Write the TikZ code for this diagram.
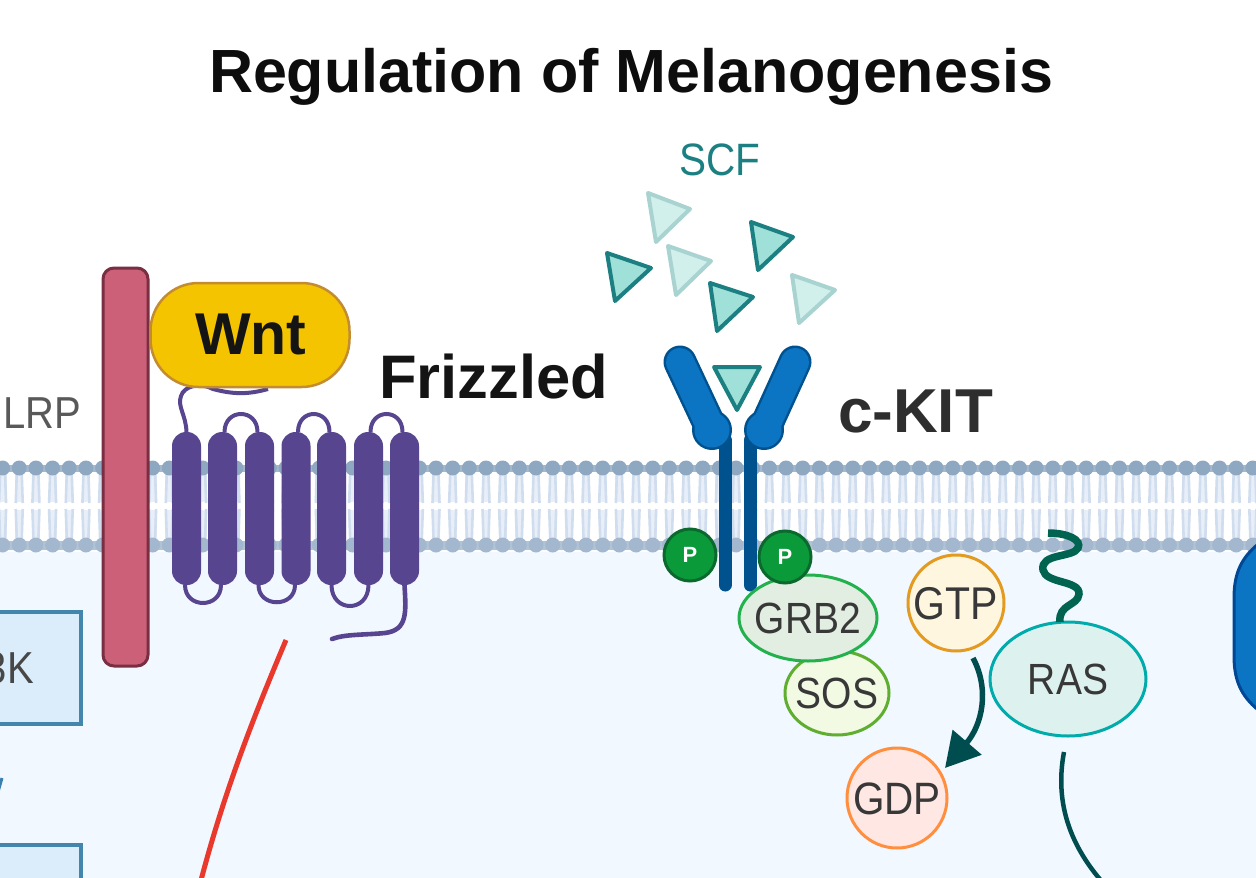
\documentclass[tikz,border=0pt]{standalone}
\usepackage{fontspec}
\usepackage{graphicx}
\setmainfont{Liberation Sans}
\usetikzlibrary{shapes.geometric,arrows.meta,calc}
\definecolor{cyto}{HTML}{F2F8FF}
\definecolor{head}{HTML}{8FA8C1}
\definecolor{headlow}{HTML}{A3B8CF}
\definecolor{tail}{HTML}{CFDDEE}
\definecolor{tailhalo}{HTML}{E8EFF8}
\definecolor{frz}{HTML}{58458F}
\definecolor{kitfill}{HTML}{0B75C4}
\definecolor{kitdark}{HTML}{00528F}
\definecolor{ligdark}{HTML}{1C8082}
\definecolor{ligfill}{HTML}{9FE1D9}
\definecolor{ligpaled}{HTML}{A9D3D1}
\definecolor{ligpalef}{HTML}{D1F0EC}
\definecolor{deepteal}{HTML}{004D50}
\definecolor{phosfill}{HTML}{0A9A3A}
\definecolor{phosline}{HTML}{0C692E}
\definecolor{boxfill}{HTML}{DBEDFB}
\definecolor{boxline}{HTML}{4286AD}
\newcommand{\fsz}[1]{\fontsize{#1}{#1}\selectfont}
% slightly taller letters
\newcommand{\tall}[1]{\scalebox{1}[1.12]{#1}}
% centred label that leaves the size of its ellipse alone
\newcommand{\lbl}[1]{\makebox[0pt]{\raisebox{-0.40em}[0pt][0pt]{\tall{#1}}}}
\tikzset{
  x=1pt,y=-1pt,
  helix/.style={draw=none,fill=frz,rectangle,rounded corners=14pt,minimum width=29pt,minimum height=153pt,inner sep=0pt,outer sep=0pt},
  hloop/.style={draw=frz,line width=4pt},
  ligand/.style={draw=ligdark,fill=ligfill,line width=4pt,line join=round},
  paleligand/.style={draw=ligpaled,fill=ligpalef,line width=4pt,line join=round},
  blob/.style={ellipse,inner sep=0pt,outer sep=0pt,line width=3pt,text=black!78},
  phos/.style={circle,minimum size=52pt,inner sep=0pt,outer sep=0pt,fill=phosfill,draw=phosline,line width=3pt,text=white,font=\bfseries\fsz{22}},
  tag/.style={anchor=base west,inner sep=0pt,outer sep=0pt},
  kinbox/.style={fill=boxfill,draw=boxline,line width=4pt}
}
\begin{document}
\begin{tikzpicture}
\useasboundingbox (0,0) rectangle (1256,878);
\clip (0,0) rectangle (1256,878);
% page and cytoplasm
\fill[white] (0,0) rectangle (1256,878);
\fill[cyto] (0,552) rectangle (1256,878);

% lipid bilayer
\foreach \k in {-27,...,49}{
  \pgfmathsetmacro{\hx}{436+16.67*\k}
  \draw[tailhalo,line width=8pt] (\hx,474) -- (\hx,502);
  \draw[tailhalo,line width=8pt] (\hx,510) -- (\hx,538);
}
\foreach \k in {-27,...,49}{
  \pgfmathsetmacro{\hx}{436+16.67*\k}
  \draw[tail,line width=2.6pt] (\hx-2.5,474) -- (\hx-3.5,503);
  \draw[tail,line width=2.6pt] (\hx+2.5,474) -- (\hx+3.5,503);
  \draw[tail,line width=2.6pt] (\hx-3.5,509) -- (\hx-2.5,538);
  \draw[tail,line width=2.6pt] (\hx+3.5,509) -- (\hx+2.5,538);
}
\fill[head!80!white] (0,464.5) rectangle (1256,471.5);
\fill[headlow!85!white] (0,541) rectangle (1256,550);
\foreach \k in {-27,...,49}{
  \pgfmathsetmacro{\hx}{436+16.67*\k}
  \fill[head] (\hx,468) circle (7.5);
  \fill[headlow] (\hx,545) circle (7.5);
}

% receptor on the far right
\draw[draw={rgb,255:red,0;green,72;blue,150},fill=kitfill,line width=3pt]
  (1262,541) .. controls (1242,556) and (1234,572) .. (1234,598)
  -- (1234,656) .. controls (1234,682) and (1242,698) .. (1262,713) -- cycle;

% LRP
\node[rectangle,rounded corners=11pt,minimum width=45pt,minimum height=398pt,inner sep=0pt,outer sep=0pt,
      fill={rgb,255:red,203;green,96;blue,120},draw={rgb,255:red,122;green,46;blue,66},line width=3pt] (lrp) at (125.5,467) {};
\node[tag,text=black!65,font=\fsz{40}] (lrplabel) at (3,428) {\tall{LRP}};

% Frizzled: N-terminal tail, seven helices, loops, C-terminal tail
\coordinate (nend) at (268,389);
\foreach \n/\cx in {1/186.5,2/222.5,3/259.5,4/296,5/331.5,6/368.5,7/404.5}{
  \node[helix] (h\n) at (\cx,508.5) {};
}
\draw[hloop] (h1.north) .. controls (186,415) and (177,406) .. (181,396)
  .. controls (184,386) and (200,382) .. (213,389) .. controls (235,395) and (250,394) .. (nend);
\foreach \a/\b in {h2/h3,h4/h5,h6/h7}{
  \draw[hloop] ([xshift=2pt]\a.north) .. controls ([xshift=2pt,yshift=24pt]\a.north) and ([xshift=-2pt,yshift=24pt]\b.north) .. ([xshift=-2pt]\b.north);
}
\draw[hloop] ([xshift=-1.5pt]h1.south) .. controls ([xshift=-1.5pt,yshift=-24pt]h1.south) and ([xshift=-1.5pt,yshift=-24pt]h2.south) .. ([xshift=-1.5pt]h2.south);
\draw[hloop] ([xshift=-1pt]h3.south) .. controls ([xshift=-1pt,yshift=-23pt]h3.south) and ([xshift=-1pt,yshift=-23pt]h4.south) .. ([xshift=-1pt]h4.south);
\draw[hloop] (h5.south) .. controls ([yshift=-28pt]h5.south) and ([yshift=-28pt]h6.south) .. (h6.south);
\coordinate (cend) at (332,639);
\draw[hloop,line width=4.6pt,line cap=round] (h7.south) .. controls (406,612) and (408,630) .. (385,633) .. controls (365,635) and (345,634) .. (cend);

% Wnt
\node[rectangle,rounded corners=48pt,minimum width=199pt,minimum height=104pt,inner sep=0pt,outer sep=0pt,
      fill={rgb,255:red,245;green,196;blue,0},draw={rgb,255:red,196;green,140;blue,48},line width=2.5pt] (wnt) at (250,335) {};
\node[tag,font=\bfseries\fsz{59},text=black!92] (wntlabel) at (195,354) {Wnt};
\node[tag,font=\bfseries\fsz{61.5},text=black!92] (frzlabel) at (379,398) {Frizzled};

% SCF ligand
\node[tag,font=\fsz{40.5},text=ligdark] (scf) at (679,175) {\tall{SCF}};
\draw[paleligand] (648,193) -- (690,209) -- (656,242) -- cycle;
\draw[paleligand] (668,246) -- (711,261) -- (676,295) -- cycle;
\draw[paleligand] (792,275) -- (835,290) -- (799,323) -- cycle;
\draw[ligand] (751,222) -- (793,237) -- (758,270) -- cycle;
\draw[ligand] (607,253) -- (651,268) -- (615,301) -- cycle;
\draw[ligand] (710,283) -- (753,297) -- (717,331) -- cycle;
\draw[ligand] (714,367) -- (760,367) -- (737,410) -- cycle;

% c-KIT dimer
\foreach \sx/\ax/\bx in {725/680/712,750/795/764}{
  \draw[kitdark,line width=13pt,line cap=round] (\sx,440) -- (\sx,585);
  \fill[kitdark] (\bx,430) circle (20);
  \draw[kitdark,line width=33pt,line cap=round] (\ax,362) -- (\bx,430);
  \fill[kitfill] (\bx,430) circle (17.5);
  \draw[kitfill,line width=28pt,line cap=round] (\ax,362) -- (\bx,430);
}
\node[tag,font=\bfseries\fsz{62},text=black!82] (kitlabel) at (838,432) {c-KIT};

% adaptor complex
\node[blob,minimum width=104pt,minimum height=84pt,fill={rgb,255:red,242;green,250;blue,228},draw={rgb,255:red,95;green,174;blue,48},font=\fsz{39}] (sos) at (837,693) {\lbl{SOS}};
\node[blob,minimum width=138pt,minimum height=86pt,fill={rgb,255:red,226;green,238;blue,226},draw={rgb,255:red,34;green,177;blue,76},font=\fsz{39}] (grb) at (808,618) {\lbl{GRB2}};
\node[phos] (p1) at (690,555) {P};
\node[phos] (p2) at (785,557) {P};

% nucleotides
\node[blob,minimum width=96pt,minimum height=96pt,fill={rgb,255:red,255;green,246;blue,224},draw={rgb,255:red,227;green,154;blue,32},font=\fsz{41}] (gtp) at (956,603) {\lbl{GTP}};
\node[blob,minimum width=100pt,minimum height=100pt,fill={rgb,255:red,255;green,232;blue,228},draw={rgb,255:red,255;green,143;blue,63},font=\fsz{40.5}] (gdp) at (897,798) {\lbl{GDP}};
\coordinate (gtpout) at (973,658);
\coordinate (gdpin) at (945,768);
\draw[deepteal,line width=5.5pt,-{Triangle[length=34pt,width=37pt]}] (gtpout) .. controls (990,690) and (982,725) .. (gdpin);

% RAS with its membrane anchor
\node[blob,minimum width=156pt,minimum height=114pt,fill={rgb,255:red,221;green,242;blue,238},draw={rgb,255:red,0;green,171;blue,171},font=\fsz{39}] (ras) at (1068,679) {\lbl{RAS}};
\coordinate (anchor) at (1048,533);
\draw[draw={rgb,255:red,0;green,100;blue,80},line width=7.5pt]
  (anchor) .. controls (1068,533) and (1082,540) .. (1078,548)
  .. controls (1073,558) and (1040,553) .. (1043,570)
  .. controls (1046,584) and (1080,580) .. (1079,594)
  .. controls (1078,606) and (1058,604) .. ([xshift=-8pt]ras.north);
\coordinate (rasout) at (1064,752);
\coordinate (rasdown) at (1104,884);
\draw[deepteal,line width=4.5pt] (rasout) .. controls (1054,805) and (1072,848) .. (rasdown);

% red inhibition line below Frizzled
\coordinate (redtop) at (286,640);
\coordinate (redend) at (200,884);
\draw[draw={rgb,255:red,232;green,57;blue,44},line width=5pt] (redtop) .. controls (248,730) and (222,800) .. (redend);

% pathway boxes at the left side
\node[rectangle,kinbox,minimum width=90pt,minimum height=112pt,inner sep=0pt,outer sep=0pt] (kbox) at (36,668) {};
\node[rectangle,kinbox,minimum width=90pt,minimum height=112pt,inner sep=0pt,outer sep=0pt] (lowbox) at (36,901) {};
\node[anchor=base east,inner sep=0pt,font=\fsz{40},text=black!72] (klabel) at (34,683) {\tall{3K}};
\coordinate (stubt) at (2,778);
\coordinate (stubb) at (-2,792);
\draw[draw={rgb,255:red,58;green,127;blue,176},line width=3pt] (stubt) -- (stubb);

% title
\node[tag,font=\bfseries\fsz{61},text=black!95] (title) at (209,92) {Regulation of Melanogenesis};
\end{tikzpicture}
\end{document}
